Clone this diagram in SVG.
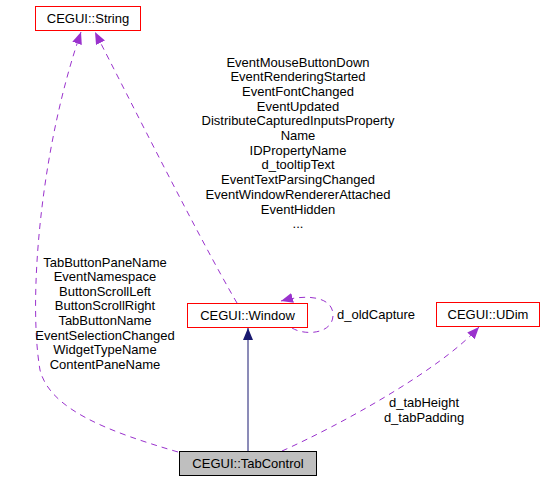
<svg xmlns="http://www.w3.org/2000/svg" width="549" height="483" viewBox="0 0 549 483">
<style>
text{font-family:"Liberation Sans",Arial,sans-serif;font-size:13px;fill:#000}
.c{text-anchor:middle}
.box{fill:#fff;stroke:#ff0000;stroke-width:1}
.cur{fill:#bfbfbf;stroke:#000;stroke-width:1}
.use{fill:none;stroke:#9a32cd;stroke-width:1;stroke-dasharray:6,5}
.inh{fill:none;stroke:#191970;stroke-width:1}
</style>
<defs>
<marker id="ap" markerUnits="userSpaceOnUse" markerWidth="14" markerHeight="12" refX="12" refY="5" orient="auto">
<path d="M0,0 L12,5 L0,10 z" fill="#9a32cd"/>
</marker>
<marker id="an" markerUnits="userSpaceOnUse" markerWidth="14" markerHeight="12" refX="12" refY="5" orient="auto">
<path d="M0,0 L12,5 L0,10 z" fill="#191970"/>
</marker>
</defs>
<rect width="549" height="483" fill="#fff"/>
<g id="connectors">
<path class="use" d="M178,452 C110,432 50,410 40,370 C28,300 40,150 81,32" marker-end="url(#ap)"/>
<path class="use" d="M237,303 C200,240 130,100 95,32" marker-end="url(#ap)"/>
<path class="use" d="M292,328 C305,336 333,334 333,315 C333,298 310,293 281,301" marker-end="url(#ap)"/>
<path class="use" d="M282,451 C340,425 440,370 479,327" marker-end="url(#ap)"/>
<path class="inh" d="M248,451 L248,328" marker-end="url(#an)"/>
<g id="label-string-window">
<text class="c" x="298" y="66.5">EventMouseButtonDown</text>
<text class="c" x="298" y="81.2">EventRenderingStarted</text>
<text class="c" x="298" y="95.9">EventFontChanged</text>
<text class="c" x="298" y="110.6">EventUpdated</text>
<text class="c" x="298" y="125.3">DistributeCapturedInputsProperty</text>
<text class="c" x="298" y="140">Name</text>
<text class="c" x="298" y="154.7">IDPropertyName</text>
<text class="c" x="298" y="169.4">d_tooltipText</text>
<text class="c" x="298" y="184.1">EventTextParsingChanged</text>
<text class="c" x="298" y="198.8">EventWindowRendererAttached</text>
<text class="c" x="298" y="213.5">EventHidden</text>
<text class="c" x="298" y="228.2">...</text>
</g>
<g id="label-string-tab">
<text class="c" x="105" y="266.5">TabButtonPaneName</text>
<text class="c" x="105" y="281.1">EventNamespace</text>
<text class="c" x="105" y="295.7">ButtonScrollLeft</text>
<text class="c" x="105" y="310.3">ButtonScrollRight</text>
<text class="c" x="105" y="324.9">TabButtonName</text>
<text class="c" x="105" y="339.5">EventSelectionChanged</text>
<text class="c" x="105" y="354.1">WidgetTypeName</text>
<text class="c" x="105" y="368.7">ContentPaneName</text>
</g>
<text x="337" y="319">d_oldCapture</text>
<text class="c" x="424" y="407">d_tabHeight</text>
<text class="c" x="424" y="422">d_tabPadding</text>
</g>
<g id="node-string">
<rect class="box" x="35.5" y="6.5" width="105" height="24"/>
<text class="c" x="88" y="23">CEGUI::String</text>
</g>
<g id="node-window">
<rect class="box" x="187.5" y="303.5" width="120" height="24"/>
<text class="c" x="247.5" y="320">CEGUI::Window</text>
</g>
<g id="node-udim">
<rect class="box" x="436.5" y="302.5" width="103" height="24"/>
<text class="c" x="488" y="319">CEGUI::UDim</text>
</g>
<g id="node-tabcontrol">
<rect class="cur" x="179.5" y="451.5" width="137" height="24"/>
<text class="c" x="248" y="468">CEGUI::TabControl</text>
</g>
</svg>
